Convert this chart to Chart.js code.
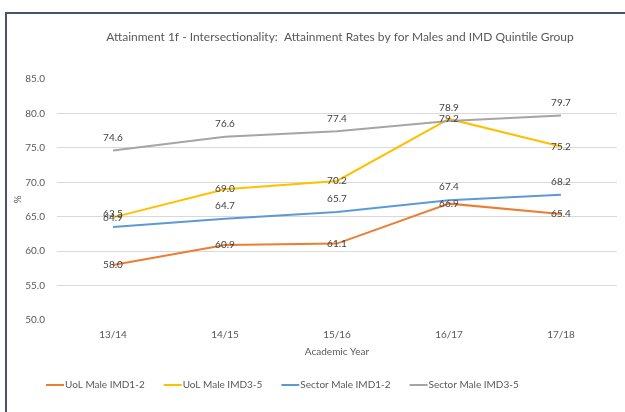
<!DOCTYPE html>
<html>
<head>
<meta charset="utf-8">
<script src="https://cdn.jsdelivr.net/npm/chart.js@4/dist/chart.umd.min.js"></script>
<style>
  html, body { margin: 0; padding: 0; background: #ffffff; }
  #wrap { width: 625px; height: 412px; position: relative; }
</style>
</head>
<body>
<div id="wrap"><canvas id="c" width="625" height="412"></canvas></div>
<script>
const categories = ['13/14', '14/15', '15/16', '16/17', '17/18'];
const uolMaleIMD12 = [58.0, 60.9, 61.1, 66.9, 65.4];
const uolMaleIMD35 = [64.9, 69.0, 70.2, 79.2, 75.2];
const sectorMaleIMD12 = [63.5, 64.7, 65.7, 67.4, 68.2];
const sectorMaleIMD35 = [74.6, 76.6, 77.4, 78.9, 79.7];
const seriesNames = ['UoL Male IMD1-2', 'UoL Male IMD3-5', 'Sector Male IMD1-2', 'Sector Male IMD3-5'];
const yTicks = [50, 55, 60, 65, 70, 75, 80, 85];
const titleText = 'Attainment 1f - Intersectionality:  Attainment Rates by for Males and IMD Quintile Group';

const FONT = 'Lato, "Liberation Sans", sans-serif';
const TEXT = '#595959';

const frame = {
  id: 'frame',
  beforeDraw(chart) {
    const ctx = chart.ctx;
    ctx.save();
    ctx.fillStyle = '#ffffff';
    ctx.fillRect(0, 0, chart.width, chart.height);
    ctx.fillStyle = '#46556b';
    ctx.fillRect(5, 12, 2, chart.height - 12);
    ctx.fillRect(5, 12, chart.width - 5, 2);
    // title
    ctx.fillStyle = TEXT;
    ctx.font = '12px ' + FONT;
    ctx.textAlign = 'center';
    ctx.textBaseline = 'middle';
    ctx.fillText(titleText, 340, 37);
    ctx.restore();
  },
  afterDraw(chart) {
    const ctx = chart.ctx;
    ctx.save();
    ctx.font = '10px ' + FONT;
    ctx.textBaseline = 'middle';
    ctx.textAlign = 'left';
    let x = 46;
    const y = 385;
    chart.data.datasets.forEach(ds => {
      ctx.strokeStyle = ds.borderColor;
      ctx.lineWidth = 2;
      ctx.beginPath();
      ctx.moveTo(x, y);
      ctx.lineTo(x + 18, y);
      ctx.stroke();
      x += 19;
      ctx.fillStyle = TEXT;
      ctx.fillText(ds.label, x, y);
      x += ctx.measureText(ds.label).width + 19;
    });
    ctx.restore();
  }
};

const dataLabels = {
  id: 'dataLabels',
  afterDatasetsDraw(chart) {
    const ctx = chart.ctx;
    ctx.save();
    ctx.font = '10px ' + FONT;
    ctx.fillStyle = '#404040';
    ctx.textAlign = 'center';
    ctx.textBaseline = 'middle';
    chart.data.datasets.forEach((ds, i) => {
      const meta = chart.getDatasetMeta(i);
      meta.data.forEach((pt, j) => {
        const dy = ds.labelPos === 'above' ? -13 : 0;
        ctx.fillText(ds.data[j].toFixed(1), pt.x, pt.y + dy);
      });
    });
    ctx.restore();
  }
};

const colors = ['#ED7D31', '#FFC000', '#5B9BD5', '#A5A5A5'];
const allData = [uolMaleIMD12, uolMaleIMD35, sectorMaleIMD12, sectorMaleIMD35];
const labelPos = ['center', 'center', 'above', 'above'];

new Chart(document.getElementById('c'), {
  type: 'line',
  data: {
    labels: categories,
    datasets: allData.map((d, i) => ({
      label: seriesNames[i],
      data: d,
      borderColor: colors[i],
      backgroundColor: colors[i],
      borderWidth: 2,
      pointRadius: 0,
      tension: 0,
      fill: false,
      labelPos: labelPos[i],
      order: 3 - i
    }))
  },
  options: {
    responsive: false,
    animation: false,
    devicePixelRatio: 1,
    layout: { padding: { left: 8, right: 8, top: 79, bottom: 50 } },
    plugins: {
      legend: { display: false },
      title: { display: false },
      tooltip: { enabled: false }
    },
    scales: {
      x: {
        type: 'category',
        offset: true,
        grid: { display: false, drawTicks: false },
        border: { display: false },
        ticks: { color: TEXT, font: { family: FONT, size: 10 }, padding: 9, maxRotation: 0 },
        title: { display: true, text: 'Academic Year', color: TEXT, font: { family: FONT, size: 10 }, padding: { top: 0, bottom: 4 } },
        afterFit(scale) { scale.height = 42; }
      },
      y: {
        min: 50,
        max: 85,
        afterBuildTicks(scale) { scale.ticks = yTicks.map(v => ({ value: v })); },
        grid: {
          drawTicks: false,
          lineWidth: 1,
          color: ctx => (ctx.tick && (ctx.tick.value === 50 || ctx.tick.value === 85)) ? 'rgba(0,0,0,0)' : '#d9d9d9'
        },
        border: { display: false },
        ticks: {
          color: TEXT,
          font: { family: FONT, size: 10 },
          padding: 12,
          callback: v => Number(v).toFixed(1)
        },
        title: { display: true, text: '%', color: TEXT, font: { family: FONT, size: 10 }, padding: { top: 4, bottom: 0 } },
        afterFit(scale) { scale.width = 49; }
      }
    }
  },
  plugins: [frame, dataLabels]
});
</script>
</body>
</html>
